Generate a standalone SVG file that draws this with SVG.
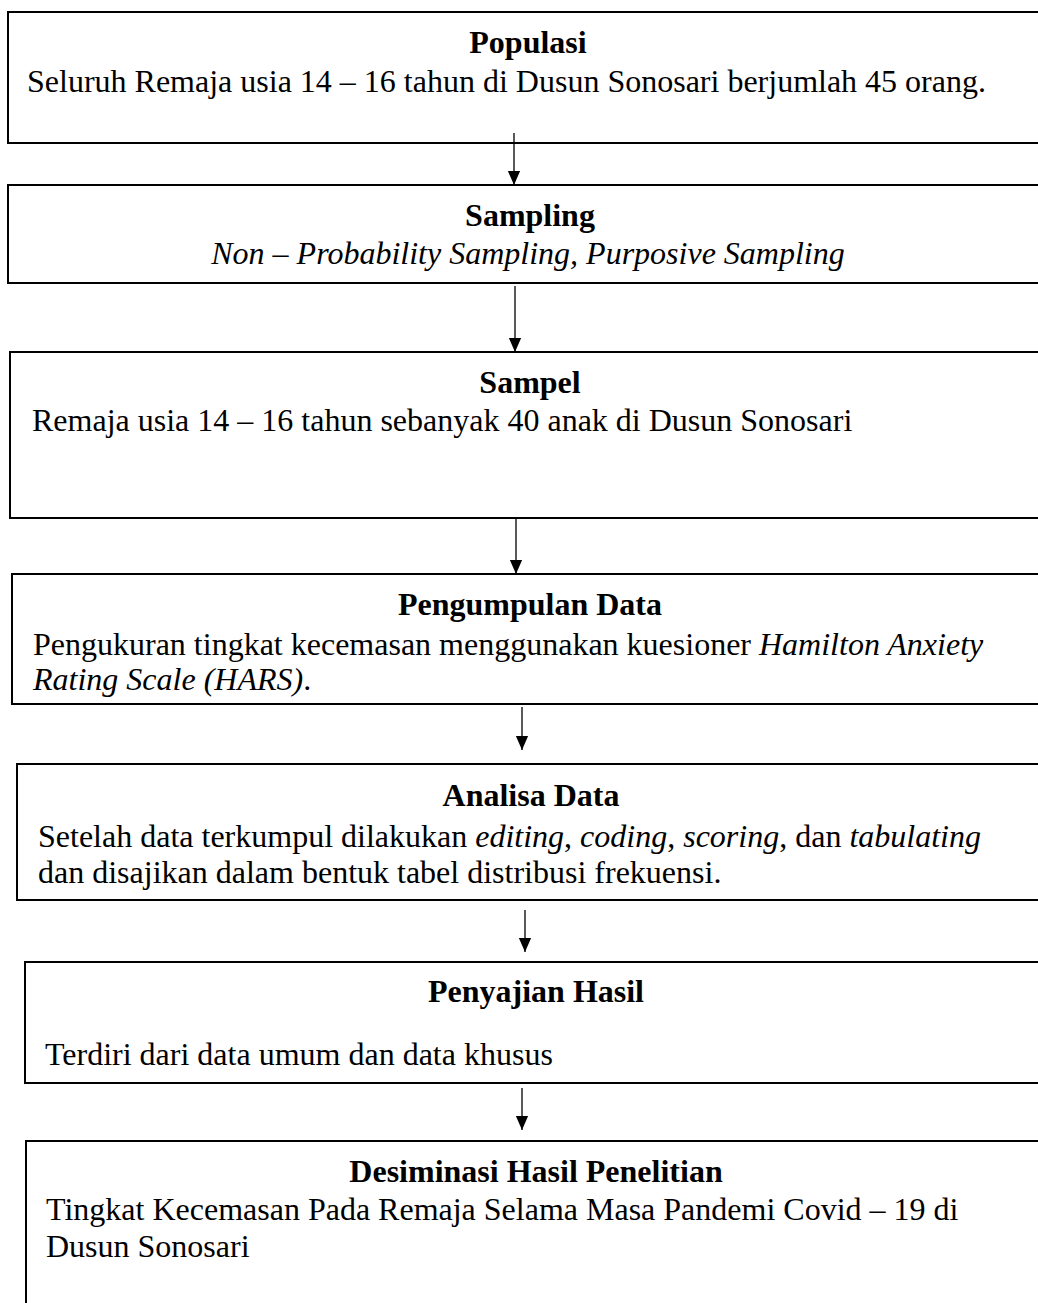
<svg xmlns="http://www.w3.org/2000/svg" width="1038" height="1303" viewBox="0 0 1038 1303">
<style>
.box{fill:#fff;stroke:#000;stroke-width:2}
.t{font-family:"Liberation Serif","Times New Roman",serif;font-size:32px;font-weight:bold;text-anchor:middle;fill:#000}
.b{font-family:"Liberation Serif","Times New Roman",serif;font-size:32px;fill:#000}
.i{font-style:italic}
.c{stroke:#000;stroke-width:1.3;fill:none}
</style>
<defs>
<marker id="ah" markerUnits="userSpaceOnUse" markerWidth="14" markerHeight="16" refX="16" refY="7" orient="auto" viewBox="0 0 16 14">
<path d="M0,0 L16,7 L0,14 Z" fill="#000"/>
</marker>
</defs>
<rect width="1038" height="1303" fill="#fff"/>
<g id="populasi">
<rect class="box" x="8" y="12" width="1045" height="131"/>
<text class="t" x="528" y="53">Populasi</text>
<text class="b" x="27" y="92">Seluruh Remaja usia 14 – 16 tahun di Dusun Sonosari berjumlah 45 orang.</text>
</g>
<g id="sampling">
<rect class="box" x="8" y="185" width="1045" height="98"/>
<text class="t" x="530" y="226">Sampling</text>
<text class="b i" x="528" y="264" text-anchor="middle">Non – Probability Sampling, Purposive Sampling</text>
</g>
<g id="sampel">
<rect class="box" x="10" y="352" width="1045" height="166"/>
<text class="t" x="530" y="393">Sampel</text>
<text class="b" x="32" y="431">Remaja usia 14 – 16 tahun sebanyak 40 anak di Dusun Sonosari</text>
</g>
<g id="pengumpulan">
<rect class="box" x="12" y="574" width="1045" height="130"/>
<text class="t" x="530" y="615">Pengumpulan Data</text>
<text class="b" x="33" y="655">Pengukuran tingkat kecemasan menggunakan kuesioner <tspan class="i">Hamilton Anxiety</tspan></text>
<text class="b i" x="33" y="690">Rating Scale (HARS)<tspan font-style="normal">.</tspan></text>
</g>
<g id="analisa">
<rect class="box" x="17" y="764" width="1045" height="136"/>
<text class="t" x="531" y="806">Analisa Data</text>
<text class="b" x="38" y="847">Setelah data terkumpul dilakukan <tspan class="i">editing</tspan>, <tspan class="i">coding</tspan>, <tspan class="i">scoring</tspan>, dan <tspan class="i">tabulating</tspan></text>
<text class="b" x="38" y="883">dan disajikan dalam bentuk tabel distribusi frekuensi.</text>
</g>
<g id="penyajian">
<rect class="box" x="25" y="962" width="1045" height="121"/>
<text class="t" x="536" y="1002">Penyajian Hasil</text>
<text class="b" x="45" y="1065">Terdiri dari data umum dan data khusus</text>
</g>
<g id="desiminasi">
<rect class="box" x="26" y="1141" width="1045" height="200"/>
<text class="t" x="536" y="1182">Desiminasi Hasil Penelitian</text>
<text class="b" x="46" y="1220">Tingkat Kecemasan Pada Remaja Selama Masa Pandemi Covid – 19 di</text>
<text class="b" x="46" y="1257">Dusun Sonosari</text>
</g>
<g id="connectors">
<line class="c" x1="514" y1="133" x2="514" y2="185" marker-end="url(#ah)"/>
<line class="c" x1="515" y1="286" x2="515" y2="352" marker-end="url(#ah)"/>
<line class="c" x1="516" y1="518" x2="516" y2="574" marker-end="url(#ah)"/>
<line class="c" x1="522" y1="707" x2="522" y2="750" marker-end="url(#ah)"/>
<line class="c" x1="525" y1="910" x2="525" y2="952" marker-end="url(#ah)"/>
<line class="c" x1="522" y1="1088" x2="522" y2="1130" marker-end="url(#ah)"/>
</g>
</svg>
